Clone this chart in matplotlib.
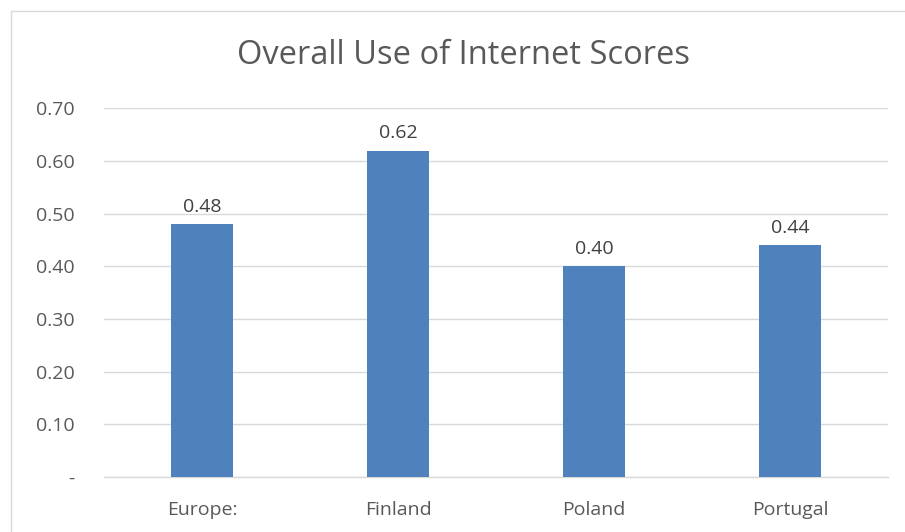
import matplotlib.pyplot as plt
from matplotlib.patches import Rectangle

categories = ["Europe:", "Finland", "Poland", "Portugal"]
scores = [0.48, 0.62, 0.40, 0.44]
y_ticks = [0.0, 0.10, 0.20, 0.30, 0.40, 0.50, 0.60, 0.70]
y_labels = ["-", "0.10", "0.20", "0.30", "0.40", "0.50", "0.60", "0.70"]

plt.rcParams["font.family"] = ["Open Sans", "DejaVu Sans"]
text_color = "#595959"
grid_color = "#d9d9d9"

fig = plt.figure(figsize=(9.05, 5.32), dpi=100)
ax = fig.add_axes([104 / 905, 1 - 477 / 532, 784 / 905, (477 - 108.5) / 532])

x = range(len(categories))
bars = ax.bar(x, scores, width=0.316, color="#4f81bd", zorder=3)

for rect, v in zip(bars, scores):
    ax.annotate(f"{v:.2f}", (rect.get_x() + rect.get_width() / 2, v),
                xytext=(0, 6), textcoords="offset points",
                ha="center", va="bottom", fontsize=14, color="#404040")

ax.set_xlim(-0.5, len(categories) - 0.5)
ax.set_ylim(0, 0.70)
ax.set_yticks(y_ticks)
ax.set_yticklabels(y_labels)
ax.set_xticks(list(x))
ax.set_xticklabels(categories)
ax.tick_params(axis="y", length=0, pad=21, labelsize=14, labelcolor=text_color)
ax.tick_params(axis="x", length=0, pad=17, labelsize=14, labelcolor=text_color)
ax.yaxis.grid(True, color=grid_color, linewidth=1, zorder=0)
for s in ["top", "right", "left"]:
    ax.spines[s].set_visible(False)
ax.spines["bottom"].set_color(grid_color)
ax.spines["bottom"].set_linewidth(1)

fig.text(463 / 905, 1 - 56 / 532, "Overall Use of Internet Scores",
         ha="center", va="center", fontsize=23.5, color=text_color)

# chart border
fig.patches.append(Rectangle((10.5 / 905, -0.1), 1.2, 1 - 10.5 / 532 + 0.1,
                             transform=fig.transFigure, fill=False,
                             edgecolor=grid_color, linewidth=1))

fig.savefig("out.png", dpi=100)
plt.close(fig)
